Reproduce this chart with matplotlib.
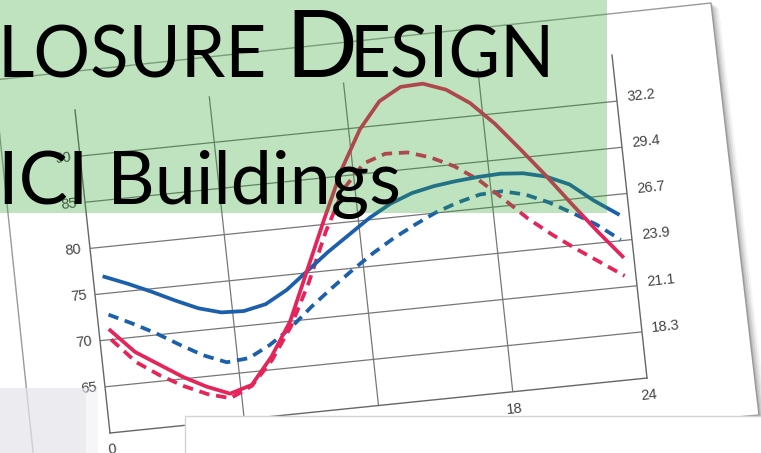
import matplotlib
matplotlib.use("Agg")
import matplotlib.pyplot as plt
from matplotlib.transforms import Affine2D
from matplotlib.patches import Polygon, Rectangle
from mpl_toolkits.axisartist import floating_axes
from mpl_toolkits.axisartist.grid_finder import FixedLocator, DictFormatter

# hourly design-day temperatures, deg F
hours = [0.5, 1.5, 2.5, 3.5, 4.5, 5.5, 6.5, 7.5, 8.5, 9.5, 10.5, 11.5,
         12.5, 13.5, 14.5, 15.5, 16.5, 17.5, 18.5, 19.5, 20.5, 21.5, 22.5, 23.5]
red_solid = [71.0, 68.4, 66.8, 65.2, 63.9, 62.9, 63.6, 66.4, 70.0, 75.3, 80.6, 85.7,
             89.8, 92.6, 93.9, 94.0, 93.1, 91.4, 88.9, 85.9, 82.8, 79.5, 76.3, 73.3]
red_dashed = [70.0, 67.3, 65.6, 64.2, 63.1, 62.4, 63.5, 66.0, 69.4, 73.9, 79.2, 83.6,
              86.1, 86.9, 86.8, 86.0, 84.8, 83.1, 80.8, 78.4, 76.4, 74.6, 72.9, 71.2]
blue_solid = [76.8, 75.8, 74.7, 73.5, 72.4, 71.7, 71.6, 72.1, 73.4, 75.2, 77.0, 78.6,
              80.2, 81.5, 82.4, 82.9, 83.2, 83.4, 83.5, 83.3, 82.7, 81.6, 79.6, 77.9]
blue_dashed = [72.7, 71.5, 70.2, 68.7, 67.3, 66.3, 66.5, 67.7, 69.3, 71.3, 73.1, 74.8,
               76.4, 77.8, 79.0, 80.1, 80.9, 81.5, 81.6, 81.0, 79.9, 78.5, 77.0, 75.1]

hour_ticks = [0, 6, 12, 18, 24]
hour_labels = ["0", "6", "12", "18", "24"]
temp_f_ticks = [65, 70, 75, 80, 85, 90]
temp_f_labels = ["65", "70", "75", "80", "85", "90"]
temp_c_labels = ["18.3", "21.1", "23.9", "26.7", "29.4", "32.2"]

RED = "#e5245a"
BLUE = "#1c5fab"
W, H = 761, 453

fig = plt.figure(figsize=(W / 100, H / 100), dpi=100)

# background: photographed sheet with a soft shadow
bg = fig.add_axes([0, 0, 1, 1])
bg.set_zorder(-1)
bg.set_xlim(0, W)
bg.set_ylim(H, 0)
bg.axis("off")
card = [(-6, 80), (711, 3), (759, 415), (36, 480)]
for k, a in [(8, 0.08), (6, 0.12), (4, 0.18), (2, 0.25)]:
    bg.add_patch(Polygon([(x + k, y + k * 0.6) for x, y in card], closed=True,
                         fc="#777777", ec="none", alpha=a))
bg.add_patch(Polygon(card, closed=True, fc="white", ec="#9a9a9a", lw=1))

# tilted chart on the sheet
tr = Affine2D().from_values(22.375, 2.29, -1.0, 9.23, 60.0, -553.8)
grid_helper = floating_axes.GridHelperCurveLinear(
    tr, extremes=(0, 24, 60, 95),
    grid_locator1=FixedLocator(hour_ticks),
    grid_locator2=FixedLocator(temp_f_ticks),
    tick_formatter1=DictFormatter(dict(zip(hour_ticks, hour_labels))),
    tick_formatter2=DictFormatter(dict(zip(temp_f_ticks, temp_f_labels))))

corners = tr.transform([(0, 60), (24, 60), (0, 95), (24, 95)])
x0, y0 = corners.min(axis=0)
x1, y1 = corners.max(axis=0)
ox, oy = 110, H - 433
w, h = (x1 - x0) * 1.02, (y1 - y0) * 1.02
cx, cy = ox + (x0 + x1) / 2, oy + (y0 + y1) / 2
ax = fig.add_axes([(cx - w / 2) / W, (cy - h / 2) / H, w / W, h / H],
                  axes_class=floating_axes.FloatingAxes, grid_helper=grid_helper)
ax.patch.set_facecolor("white")

for side in ["left", "right", "bottom"]:
    ax.axis[side].line.set_color("#666666")
    ax.axis[side].line.set_linewidth(1.0)
    ax.axis[side].major_ticks.set_visible(False)
    ax.axis[side].major_ticklabels.set_fontsize(10.5)
    ax.axis[side].major_ticklabels.set_color("#444444")
    ax.axis[side].major_ticklabels.set_fontfamily("Liberation Sans")
ax.axis["left"].major_ticklabels.set_pad(6)
ax.axis["bottom"].major_ticklabels.set_pad(8)
ax.axis["top"].set_visible(False)
ax.axis["right"].major_ticklabels.set_visible(False)
ax.grid(True, color="#777777", linewidth=0.9)

aux = ax.get_aux_axes(tr)
aux.plot(hours, blue_dashed, color=BLUE, lw=2.7, ls=(0, (2.8, 1.8)))
aux.plot(hours, red_dashed, color=RED, lw=2.7, ls=(0, (2.8, 1.8)))
aux.plot(hours, blue_solid, color=BLUE, lw=2.7)
aux.plot(hours, red_solid, color=RED, lw=2.7)

for t, lbl in zip(temp_f_ticks, temp_c_labels):
    aux.annotate(lbl, xy=(24, t), xytext=(7, 3), textcoords="offset points",
                 ha="left", va="center", rotation=6, rotation_mode="anchor",
                 fontsize=10.5, color="#444444", family="Liberation Sans",
                 annotation_clip=False)

# slide overlays
ov = fig.add_axes([0, 0, 1, 1], zorder=5)
ov.set_xlim(0, W)
ov.set_ylim(H, 0)
ov.axis("off")
ov.add_patch(Rectangle((0, 0), 607, 213, fc=(0.18, 0.63, 0.18), alpha=0.3, ec="none"))
ov.add_patch(Rectangle((0, 388), 86, 70, fc="#e4e4ea", alpha=0.7, ec="none"))
ov.add_patch(Rectangle((86, 388), 12, 70, fc="#e4e4ea", alpha=0.3, ec="none"))
ov.add_patch(Rectangle((185, 416), 600, 60, fc="white", ec="#d4d4d4", lw=1))

title_kw = dict(family="Lato", color="black", va="baseline", ha="left")
ov.text(-3, 77, "LOSURE", fontsize=51, **title_kw)
ov.text(285, 77, "D", fontsize=68, **title_kw)
ov.text(349, 77, "ESIGN", fontsize=51, **title_kw)
ov.text(-2, 204, "ICI Buildings", fontsize=53, **title_kw)

fig.savefig("out.png", dpi=100)
